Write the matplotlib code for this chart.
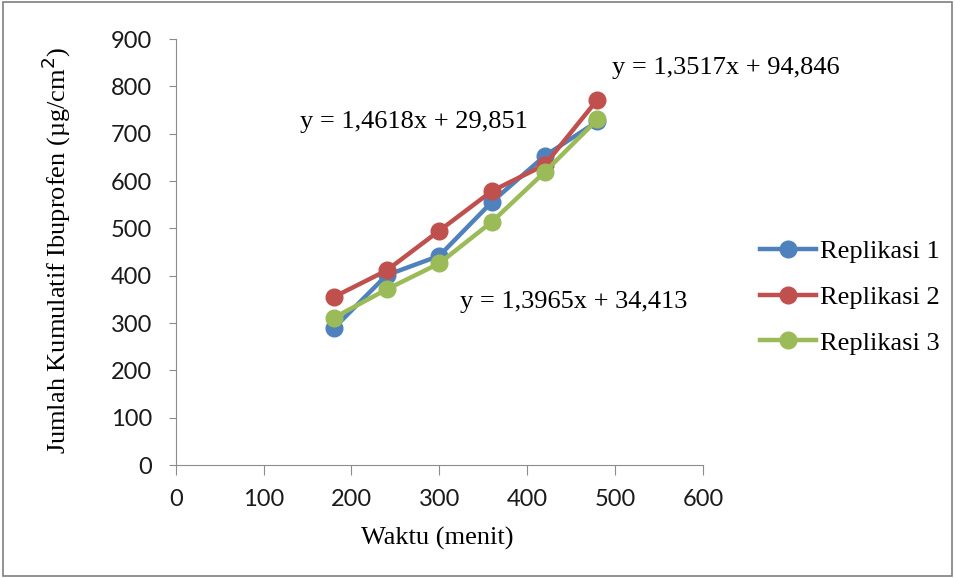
import matplotlib.pyplot as plt
from matplotlib.patches import Rectangle

waktu = [180, 240, 300, 360, 420, 480]
replikasi_1 = [289, 401, 442, 556, 653, 726]
replikasi_2 = [355, 411, 495, 579, 634, 772]
replikasi_3 = [311, 371, 426, 514, 619, 730]
names = ['Replikasi 1', 'Replikasi 2', 'Replikasi 3']
colors = ['#4F81BD', '#C0504D', '#9BBB59']
equations = ['y = 1,4618x + 29,851', 'y = 1,3517x + 94,846', 'y = 1,3965x + 34,413']

fig = plt.figure(figsize=(9.55, 5.78), dpi=100)
ax = fig.add_axes([0.184, 0.1955, 0.552, 0.737])

for vals, name, c in zip([replikasi_1, replikasi_2, replikasi_3], names, colors):
    ax.plot(waktu, vals, '-o', color=c, lw=3.2, ms=12, label=name)

ax.set_xlim(0, 600)
ax.set_ylim(0, 900)
ax.set_xticks(range(0, 601, 100))
ax.set_yticks(range(0, 901, 100))
for s in ['top', 'right']:
    ax.spines[s].set_visible(False)
for s in ['left', 'bottom']:
    ax.spines[s].set_color('#8c8c8c')
ax.tick_params(colors='#8c8c8c', labelcolor='#1a1a1a', labelsize=17)
ax.tick_params(axis='y', length=5, pad=12)
ax.tick_params(axis='x', length=7, pad=10)
for lab in ax.get_xticklabels() + ax.get_yticklabels():
    lab.set_family('Lato')

serif = 'Liberation Serif'
ax.set_xlabel('Waktu (menit)', fontsize=19, family=serif)
ax.set_ylabel('Jumlah Kumulatif Ibuprofen (µg/cm$^2$)', fontsize=19, family=serif)
ax.xaxis.set_label_coords(0.497, -0.145)
ax.yaxis.set_label_coords(-0.195, 0.505)

fig.text(300 / 955, 1 - 122 / 578, equations[0], fontsize=19, family=serif, ha='left', va='center')
fig.text(612 / 955, 1 - 68 / 578, equations[1], fontsize=19, family=serif, ha='left', va='center')
fig.text(460 / 955, 1 - 302 / 578, equations[2], fontsize=19, family=serif, ha='left', va='center')

ax.legend(loc='center left', bbox_to_anchor=(0.796, 1 - 297 / 578), bbox_transform=fig.transFigure,
          frameon=False, borderpad=0, borderaxespad=0,
          prop={'family': serif, 'size': 19}, handlelength=2.1, handletextpad=0.15,
          labelspacing=0.85)

fig.patches.append(Rectangle((0.003, 0.003), 0.994, 0.994, transform=fig.transFigure,
                             fill=False, edgecolor='#7f7f7f', lw=1.2))

fig.savefig('out.png', dpi=100)
